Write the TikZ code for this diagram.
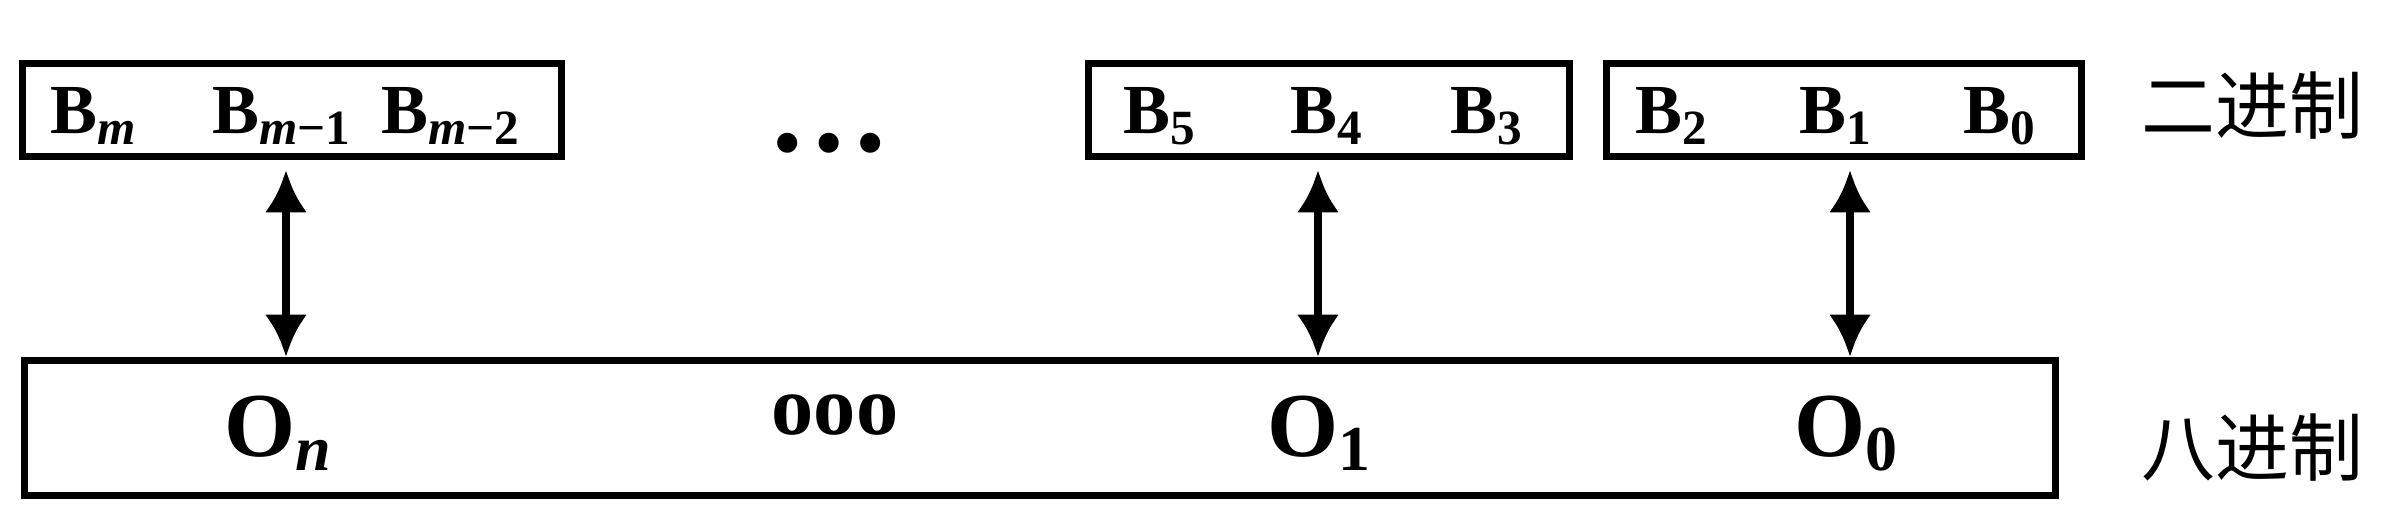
\documentclass[tikz,border=0pt]{standalone}
\usepackage{fontspec}
\setmainfont{Liberation Serif}
\newfontfamily\cjk{Noto Sans CJK SC}
\usetikzlibrary{arrows.meta}

\begin{document}
\begin{tikzpicture}[
  x=0.01cm, y=-0.01cm,
  reg/.style={draw, line width=2pt, inner sep=0pt, minimum height=0.92cm},
  bit/.style={anchor=base west, inner sep=0pt, font=\fontsize{20}{22}\selectfont\bfseries},
  octd/.style={anchor=base west, inner sep=0pt, font=\fontsize{26}{30}\selectfont\bfseries},
  lbl/.style={anchor=west, inner sep=0pt, font=\fontsize{21}{24}\selectfont\cjk},
  link/.style={{Latex[length=12pt,width=12pt]}-{Latex[length=12pt,width=12pt]}, line width=2.4pt}
]
\useasboundingbox (0,0) rectangle (2382,519);

% binary groups
\node[reg, minimum width=5.39cm] (bin1) at (292,110) {};
\node[reg, minimum width=4.80cm] (bin2) at (1329,110) {};
\node[reg, minimum width=4.74cm] (bin3) at (1844,110) {};
\node[inner sep=0pt, font=\fontsize{35}{40}\selectfont\bfseries] (bdots) at (829,143) {…};

\node[bit] (bm)  at (50,134)  {B\textsubscript{\itshape m}};
\node[bit] (bm1) at (212,134) {B\textsubscript{\itshape m\upshape −1}};
\node[bit] (bm2) at (381,134) {B\textsubscript{\itshape m\upshape −2}};
\node[bit] (b5) at (1123,134) {B\textsubscript{5}};
\node[bit] (b4) at (1290,134) {B\textsubscript{4}};
\node[bit] (b3) at (1450,134) {B\textsubscript{3}};
\node[bit] (b2) at (1635,134) {B\textsubscript{2}};
\node[bit] (b1) at (1799,134) {B\textsubscript{1}};
\node[bit] (b0) at (1963,134) {B\textsubscript{0}};

% octal digits
\node[reg, minimum width=20.29cm, minimum height=1.35cm] (oct) at (1040,428) {};
\node[octd] (on) at (224,457) {O\textsubscript{\itshape n}};
\node[inner sep=0pt, font=\fontsize{24}{28}\selectfont\bfseries] (odots) at (835,415) {ooo};
\node[octd] (o1) at (1267,457) {O\textsubscript{1}};
\node[octd] (o0) at (1794,457) {O\textsubscript{0}};

% labels
\node[lbl] (binlbl) at (2141,106) {二进制};
\node[lbl] (octlbl) at (2141,448) {八进制};

\coordinate (a1) at ([xshift=-0.06cm, yshift=-3pt]bin1.south);
\coordinate (a2) at ([xshift=-0.11cm, yshift=-3pt]bin2.south);
\coordinate (a3) at ([xshift=0.06cm, yshift=-3pt]bin3.south);
\draw[link] (a1) -- (a1 |- oct.north);
\draw[link] (a2) -- (a2 |- oct.north);
\draw[link] (a3) -- (a3 |- oct.north);
\end{tikzpicture}
\end{document}
